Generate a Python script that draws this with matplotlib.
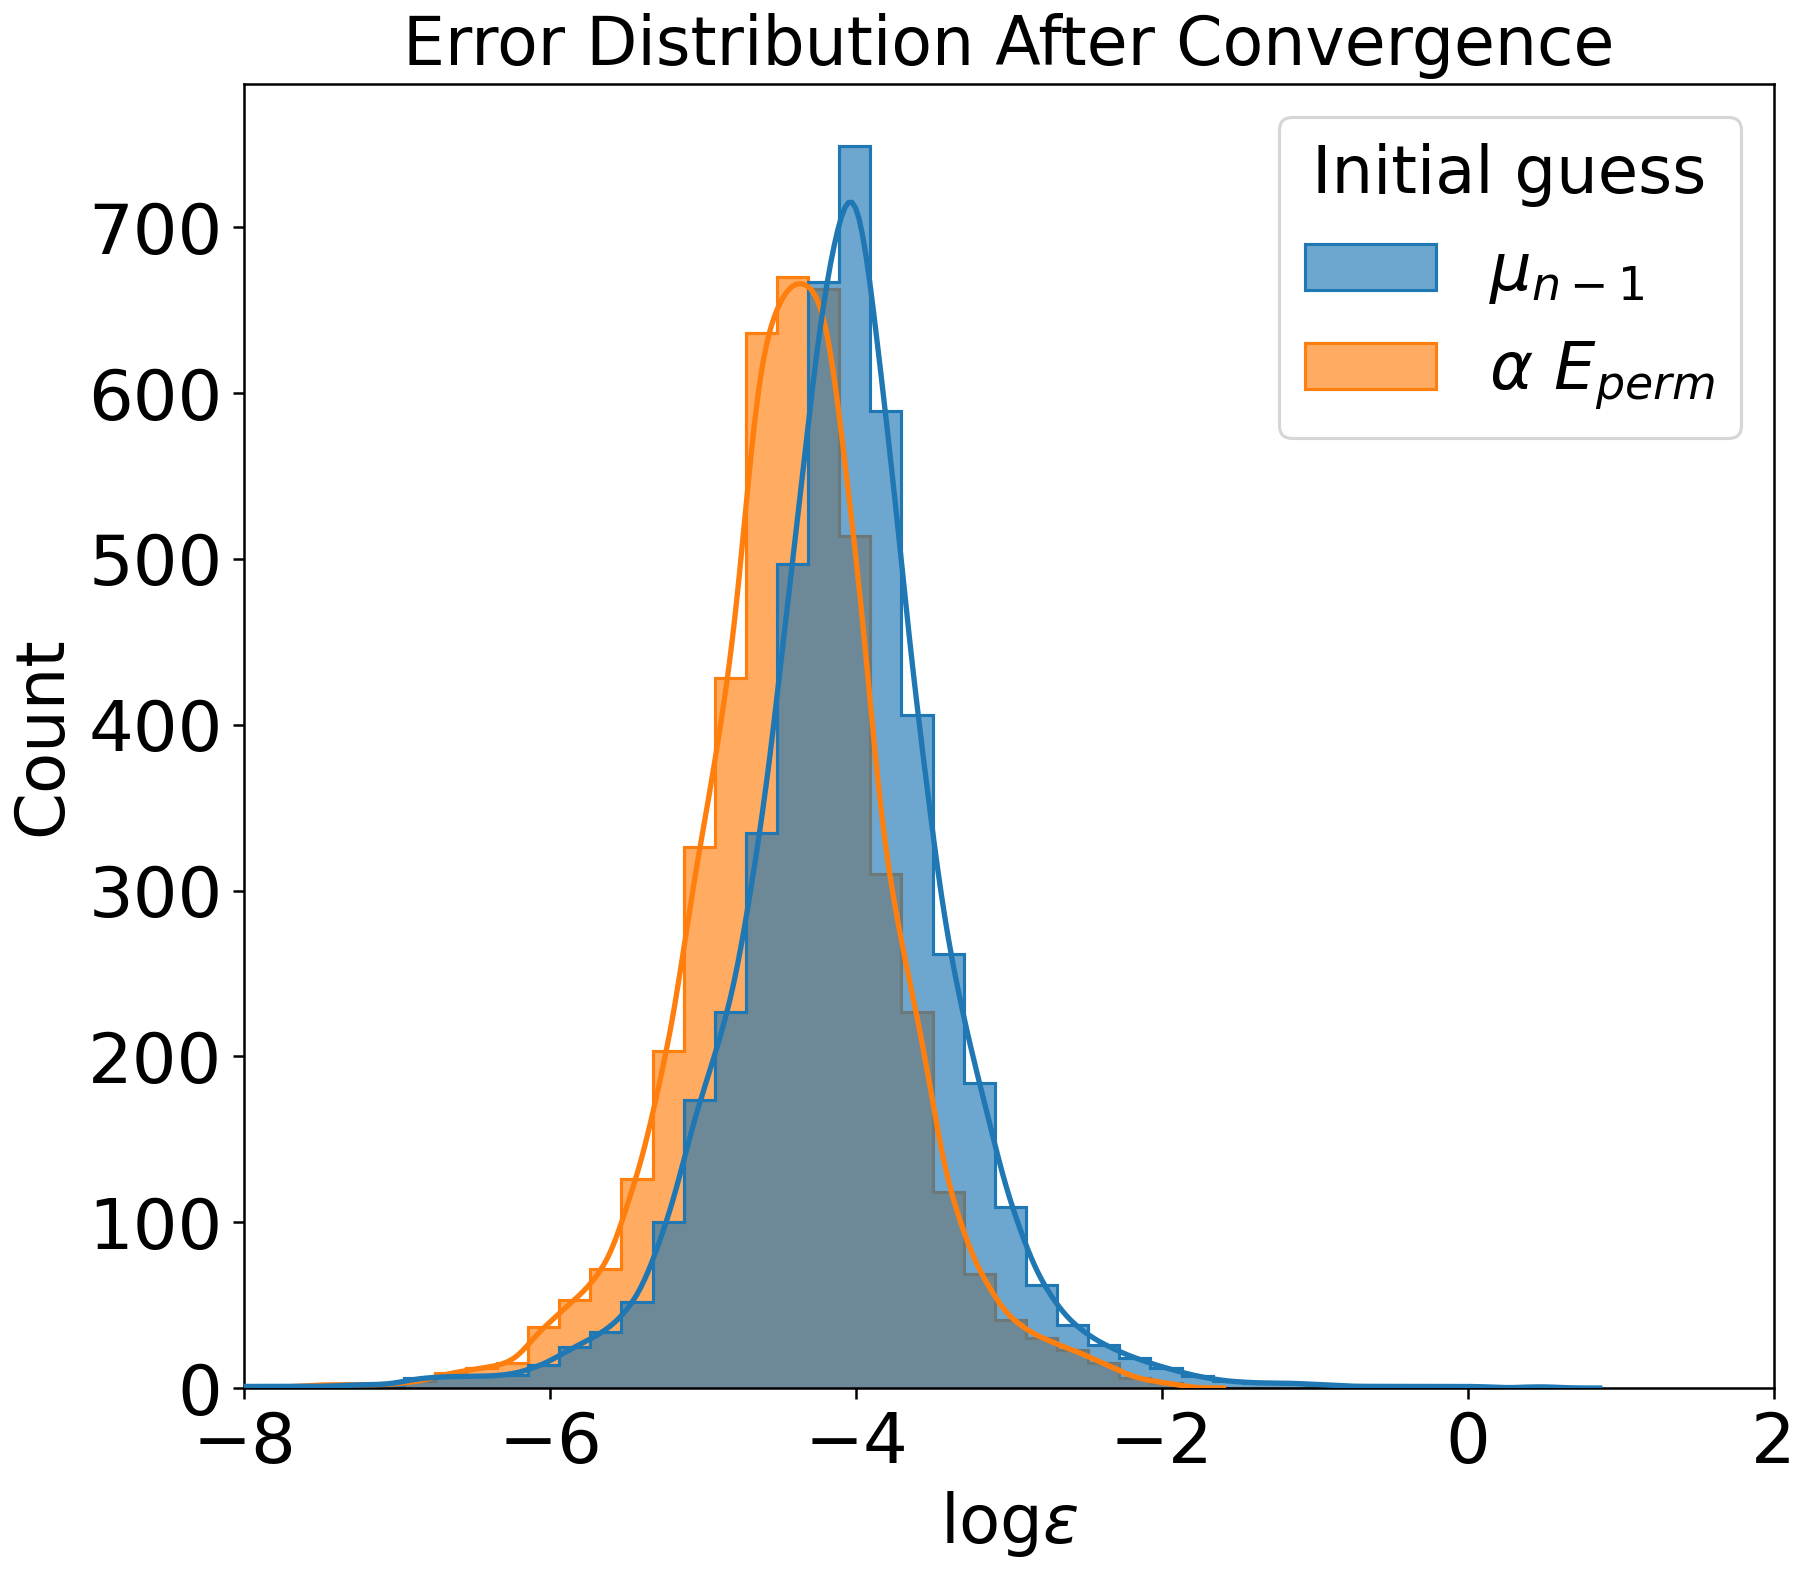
import math
import numpy as np
import matplotlib
matplotlib.use("Agg")
import matplotlib.pyplot as plt
from matplotlib.patches import Patch
from matplotlib.colors import to_rgba

# ---------------- data ----------------
bin_start = -8.180
bin_width = 0.2035
n_bins = 44

mu_counts = [1, 1, 1, 1, 2, 2, 6, 7, 7, 8, 14, 25, 34, 52, 100, 174, 227, 335, 497, 667,
             749, 589, 406, 262, 184, 109, 62, 38, 26, 18, 12, 7, 4, 3, 3, 2, 1, 1, 1, 1,
             1, 0, 1, 0]
alpha_counts = [0, 0, 1, 2, 2, 2, 4, 9, 12, 15, 37, 53, 72, 126, 203, 326, 428, 636, 670, 663,
                514, 310, 227, 118, 69, 41, 30, 23, 15, 6, 3, 0, 0, 0, 0, 0, 0, 0, 0, 0,
                0, 0, 0, 0]

labels = [r'$\mu_{n-1}$', r'$\alpha\ E_{perm}$']
legend_title = 'Initial guess'
title = 'Error Distribution After Convergence'
xlabel = r'log$\varepsilon$'
ylabel = 'Count'
xticks = [-8, -6, -4, -2, 0, 2]
yticks = [0, 100, 200, 300, 400, 500, 600, 700]

edges = bin_start + bin_width * np.arange(n_bins + 1)

# ---------------- style ----------------
plt.rcParams['font.size'] = 21
blue = '#1f77b4'
orange = '#ff7f0e'
fill_alpha = 0.65
bw_adjust = 0.75

_erf = np.vectorize(math.erf)


def kde_counts(counts, edges, grid):
    """Gaussian KDE (Scott's rule) of the histogram data, scaled to counts."""
    c = np.asarray(counts, float)
    lo, hi = edges[:-1], edges[1:]
    centers = 0.5 * (lo + hi)
    n = c.sum()
    mean = (c * centers).sum() / n
    var = (c * (centers - mean) ** 2).sum() / n + (hi - lo).mean() ** 2 / 12
    h = bw_adjust * math.sqrt(var) * n ** (-0.2)
    x = grid[:, None]
    phi = lambda z: 0.5 * (1 + _erf(z / math.sqrt(2)))
    y = (c[None, :] * (phi((x - lo[None, :]) / h) - phi((x - hi[None, :]) / h))).sum(axis=1)
    return y, h


fig = plt.figure(figsize=(8, 7), dpi=225)
ax = fig.add_axes([0.1358, 0.1187, 0.9853 - 0.1358, 0.9467 - 0.1187])

series = [(mu_counts, blue), (alpha_counts, orange)]
# draw orange first, blue on top (seaborn draws hue levels in reverse)
for counts, col in reversed(series):
    ax.stairs(counts, edges, fill=True, facecolor=to_rgba(col, fill_alpha),
              edgecolor=col, linewidth=1.0, baseline=0)

for counts, col in reversed(series):
    c = np.asarray(counts)
    nz = np.nonzero(c)[0]
    _, h = kde_counts(counts, edges, np.array([0.0]))
    lo = edges[nz[0]] - 3 * h
    hi = edges[nz[-1] + 1] + 3 * h
    grid = np.linspace(lo, hi, 400)
    y, _ = kde_counts(counts, edges, grid)
    ax.plot(grid, y, color=col, linewidth=1.7, zorder=3)

ax.set_xlim(-8, 2)
ax.set_ylim(0, max(max(mu_counts), max(alpha_counts)) * 1.05)
ax.set_xticks(xticks)
ax.set_yticks(yticks)
ax.tick_params(labelsize=22.5)
ax.set_xlabel(xlabel, fontsize=21.5)
ax.set_ylabel(ylabel, fontsize=21.5)
ax.set_title(title, fontsize=21.3)

handles = [Patch(facecolor=to_rgba(col, fill_alpha), edgecolor=col, linewidth=1.0)
           for _, col in series]
ax.legend(handles, labels, title=legend_title, loc='upper right',
          title_fontsize=21, fontsize=21)

fig.savefig('out.png', dpi=225)
